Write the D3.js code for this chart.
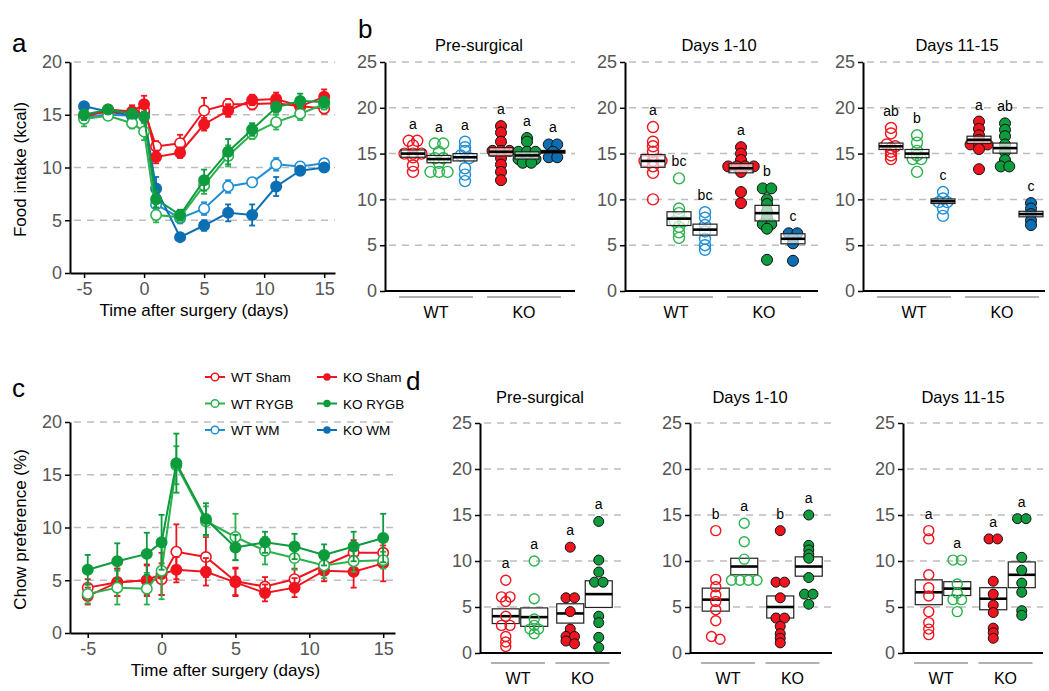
<!DOCTYPE html>
<html>
<head>
<meta charset="utf-8">
<script src="https://cdn.jsdelivr.net/npm/d3@7"></script>
<style>
  body { margin: 0; background: #fff; }
  svg { font-family: "Liberation Sans", Arial, sans-serif; }
</style>
</head>
<body>
<svg width="1049" height="691"></svg>
<script>
"use strict";

// ---- data ----
const days = [-5, -3, -1, 0, 1, 3, 5, 7, 9, 11, 13, 15];
const groupNames = ["WT Sham", "WT RYGB", "WT WM", "KO Sham", "KO RYGB", "KO WM"];
const genotypes = ["WT", "KO"];

// panel a : food intake (kcal), mean and SEM
const foodWtSham = [14.9, 15.3, 15.2, 15.4, 12.0, 12.3, 15.4, 16.0, 16.0, 16.1, 15.8, 15.6];
const foodWtShamErr = [0.5, 0.4, 0.5, 0.5, 0.5, 0.8, 1.2, 0.5, 0.5, 0.6, 0.5, 0.5];
const foodKoSham = [14.8, 15.5, 15.3, 16.0, 11.0, 11.4, 14.1, 15.4, 16.4, 16.5, 15.8, 16.7];
const foodKoShamErr = [0.4, 0.4, 0.6, 0.8, 0.6, 0.5, 0.6, 0.6, 0.5, 0.6, 0.5, 0.7];
const foodWtRygb = [14.6, 14.9, 14.2, 13.4, 5.5, 5.3, 8.3, 11.1, 13.2, 14.3, 15.1, 16.0];
const foodWtRygbErr = [0.7, 0.4, 0.5, 0.8, 0.7, 0.5, 0.8, 1.0, 0.5, 0.7, 0.6, 0.5];
const foodKoRygb = [15.0, 15.5, 15.1, 14.8, 7.0, 5.5, 8.8, 11.5, 13.6, 15.7, 16.3, 16.2];
const foodKoRygbErr = [0.5, 0.4, 0.4, 0.5, 0.8, 0.5, 1.0, 1.2, 0.6, 0.5, 0.7, 0.5];
const foodWtWm = [14.8, 15.0, 14.9, 15.0, 6.5, 5.2, 6.1, 8.2, 8.6, 10.3, 10.1, 10.4];
const foodWtWmErr = [0.5, 0.4, 0.4, 0.4, 0.7, 0.5, 0.6, 0.6, 0.4, 0.6, 0.4, 0.4];
const foodKoWm = [15.8, 15.3, 14.9, 15.1, 8.0, 3.4, 4.5, 5.7, 5.5, 8.2, 9.7, 10.0];
const foodKoWmErr = [0.4, 0.4, 0.4, 0.4, 1.1, 0.3, 0.5, 0.8, 1.0, 0.9, 0.4, 0.3];

// panel c : chow preference (%), mean and SEM
const chowWtSham = [4.3, 4.8, 5.0, 5.1, 7.7, 7.2, 4.9, 4.4, 5.1, 6.4, 7.6, 7.6];
const chowWtShamErr = [0.8, 1.3, 1.5, 1.5, 2.6, 1.9, 1.3, 0.9, 1.0, 0.8, 1.2, 1.0];
const chowKoSham = [3.5, 4.8, 5.0, 5.6, 6.0, 5.8, 4.8, 3.8, 4.3, 5.9, 5.8, 6.6];
const chowKoShamErr = [0.8, 1.3, 1.4, 2.0, 1.2, 1.3, 1.3, 0.8, 0.9, 1.0, 1.5, 1.7];
const chowWtRygb = [3.7, 4.3, 4.2, 5.9, 15.9, 10.6, 9.1, 7.8, 7.1, 6.4, 6.8, 6.9];
const chowWtRygbErr = [0.9, 1.6, 1.5, 2.7, 1.8, 1.4, 2.2, 1.3, 1.1, 1.2, 1.0, 0.8];
const chowKoRygb = [6.0, 6.8, 7.5, 8.6, 16.1, 10.8, 8.1, 8.6, 8.2, 7.4, 8.2, 9.0];
const chowKoRygbErr = [1.4, 1.7, 2.0, 2.6, 2.8, 1.5, 1.2, 1.0, 1.2, 1.0, 1.4, 2.3];

// panel b : food intake per mouse (kcal); order follows groupNames
const bPre = [
  [16.4, 16.4, 15.9, 15.0, 15.0, 15.0, 14.6, 13.7, 13.0],
  [16.1, 16.1, 15.2, 14.5, 14.5, 14.0, 13.0, 13.0, 13.0],
  [16.3, 15.7, 15.3, 14.8, 14.5, 13.4, 12.7, 12.0],
  [18.0, 17.3, 16.3, 15.3, 15.3, 15.3, 14.5, 13.8, 13.0, 12.1],
  [16.7, 16.3, 15.2, 15.2, 15.2, 14.4, 14.4, 14.4, 14.0, 14.0],
  [16.0, 16.0, 15.2, 14.6, 14.6]
];
const bPreMean = [15.0, 14.4, 14.6, 15.2, 14.8, 15.2];
const bPreSem = [0.4, 0.4, 0.4, 0.45, 0.4, 0.15];
const bPreLetters = ["a", "a", "a", "a", "a", "a"];

const bEarly = [
  [17.9, 16.3, 15.8, 15.2, 14.2, 14.2, 14.2, 13.6, 12.9, 10.0],
  [12.3, 9.0, 8.5, 7.6, 7.6, 7.0, 6.4, 5.8],
  [8.6, 8.0, 7.2, 6.5, 5.7, 5.0, 4.5],
  [15.7, 15.0, 14.3, 13.6, 13.6, 13.6, 13.6, 13.0, 10.8, 9.6],
  [11.2, 11.2, 10.0, 9.5, 8.7, 8.0, 7.3, 7.3, 6.8, 3.4],
  [6.3, 6.3, 5.7, 5.2, 3.3]
];
const bEarlyMean = [14.2, 7.9, 6.7, 13.4, 8.5, 5.7];
const bEarlySem = [0.7, 0.75, 0.6, 0.5, 0.85, 0.55];
const bEarlyLetters = ["a", "bc", "bc", "a", "b", "c"];

const bLate = [
  [17.8, 17.2, 16.0, 15.8, 15.6, 15.2, 14.8, 14.4],
  [17.0, 16.2, 15.3, 14.8, 14.4, 14.4, 13.0],
  [10.8, 10.1, 9.7, 9.7, 9.0, 8.2],
  [18.5, 17.7, 17.0, 16.5, 16.0, 16.0, 16.0, 15.5, 13.3],
  [18.3, 17.6, 16.9, 16.0, 15.2, 14.3, 13.6, 13.6],
  [9.6, 9.0, 8.4, 7.7, 7.2]
];
const bLateMean = [15.8, 15.0, 9.8, 16.5, 15.6, 8.4];
const bLateSem = [0.35, 0.45, 0.25, 0.4, 0.55, 0.3];
const bLateLetters = ["ab", "b", "c", "a", "ab", "c"];

// panel d : chow preference per mouse (%); WT Sham, WT RYGB, KO Sham, KO RYGB
const dGroupNames = ["WT Sham", "WT RYGB", "KO Sham", "KO RYGB"];
const dPre = [
  [7.9, 6.1, 6.1, 5.6, 4.0, 3.0, 3.0, 1.8, 1.2, 0.7],
  [10.0, 5.9, 3.7, 3.0, 2.6, 2.6, 2.1],
  [11.5, 6.0, 6.0, 4.5, 2.6, 1.8, 1.8, 1.3, 1.0],
  [14.3, 10.1, 8.8, 7.7, 7.7, 4.0, 3.3, 1.7, 0.6]
];
const dPreMean = [4.0, 3.9, 4.3, 6.4];
const dPreSem = [0.8, 1.0, 1.05, 1.45];
const dPreLetters = ["a", "a", "a", "a"];

const dEarly = [
  [13.3, 8.0, 7.2, 6.3, 5.6, 4.7, 3.5, 1.8, 1.5],
  [14.1, 12.1, 10.2, 7.9, 7.9, 7.9, 7.9],
  [13.3, 7.7, 7.7, 6.0, 3.8, 3.8, 2.9, 2.1, 1.6, 1.1],
  [15.0, 11.7, 11.2, 10.7, 10.3, 8.2, 6.4, 6.4, 5.3]
];
const dEarlyMean = [5.8, 9.4, 5.0, 9.4];
const dEarlySem = [1.25, 0.9, 1.2, 1.05];
const dEarlyLetters = ["b", "a", "b", "a"];

const dLate = [
  [13.3, 12.4, 8.5, 7.1, 6.2, 4.5, 3.3, 2.6, 2.0],
  [10.1, 10.1, 7.5, 6.5, 5.8, 5.8, 4.5],
  [12.4, 12.4, 7.8, 6.4, 5.2, 4.4, 2.7, 2.2, 1.6],
  [14.6, 14.6, 10.4, 9.0, 7.6, 6.6, 4.6, 4.1]
];
const dLateMean = [6.6, 7.0, 5.9, 8.5];
const dLateSem = [1.35, 0.75, 1.2, 1.4];
const dLateLetters = ["a", "a", "a", "a"];

// ---- styles ----
const colors = {
  "WT Sham": "#f0141e", "KO Sham": "#f0141e",
  "WT RYGB": "#2bb24c", "KO RYGB": "#0d9b3e",
  "WT WM": "#1f8fd6", "KO WM": "#0d6fb3"
};
const isFilled = name => name.startsWith("KO");
const tickColor = "#555";
const gridColor = "#bdbdbd";

const svg = d3.select("svg");

function styleAxis(g) {
  g.select(".domain").attr("stroke", "#000").attr("stroke-width", 2);
  g.selectAll(".tick line").attr("stroke", "#000").attr("stroke-width", 1.5);
  g.selectAll(".tick text")
    .attr("fill", tickColor)
    .style("font-size", "18px")
    .style("font-family", "Liberation Sans, Arial, sans-serif");
}

function gridLines(g, y, values, x0, x1) {
  g.append("g").selectAll("line")
    .data(values)
    .join("line")
    .attr("x1", x0 + 4).attr("x2", x1)
    .attr("y1", d => y(d)).attr("y2", d => y(d))
    .attr("stroke", gridColor)
    .attr("stroke-width", 1.5)
    .attr("stroke-dasharray", "7,6");
}

// time course panels (a, c)
function timePanel(cfg) {
  const g = svg.append("g");
  const x = d3.scaleLinear().domain(cfg.xDomain).range(cfg.xRange);
  const y = d3.scaleLinear().domain([0, 20]).range(cfg.yRange);

  gridLines(g, y, [5, 10, 15, 20], cfg.xRange[0], cfg.xRange[1]);

  g.append("g")
    .attr("transform", `translate(${cfg.xRange[0]},0)`)
    .call(d3.axisLeft(y).tickValues([0, 5, 10, 15, 20]).tickSize(5).tickSizeOuter(0).tickPadding(3))
    .call(styleAxis);
  g.append("g")
    .attr("transform", `translate(0,${cfg.yRange[0]})`)
    .call(d3.axisBottom(x).tickValues([-5, 0, 5, 10, 15]).tickSize(5).tickSizeOuter(0)
      .tickPadding(4).tickFormat(d => String(d)))
    .call(styleAxis);

  const line = d3.line().x(d => x(d.day)).y(d => y(d.v));

  cfg.series.forEach(s => {
    const pts = days.map((day, i) => ({ day, v: s.vals[i], e: s.err[i] }));
    const c = colors[s.name];
    const sg = g.append("g");
    sg.append("path")
      .datum(pts)
      .attr("d", line)
      .attr("fill", "none")
      .attr("stroke", c)
      .attr("stroke-width", 2);
    const eb = sg.selectAll("g.err").data(pts).join("g").attr("class", "err");
    eb.append("line")
      .attr("x1", d => x(d.day)).attr("x2", d => x(d.day))
      .attr("y1", d => y(d.v - d.e)).attr("y2", d => y(d.v + d.e))
      .attr("stroke", c).attr("stroke-width", 1.8);
    eb.selectAll("line.cap")
      .data(d => [d.v - d.e, d.v + d.e].map(v => ({ day: d.day, v })))
      .join("line").attr("class", "cap")
      .attr("x1", d => x(d.day) - 3).attr("x2", d => x(d.day) + 3)
      .attr("y1", d => y(d.v)).attr("y2", d => y(d.v))
      .attr("stroke", c).attr("stroke-width", 1.8);
    sg.selectAll("circle")
      .data(pts)
      .join("circle")
      .attr("cx", d => x(d.day)).attr("cy", d => y(d.v))
      .attr("r", 5.2)
      .attr("fill", isFilled(s.name) ? c : "#fff")
      .attr("stroke", c)
      .attr("stroke-width", 1.6);
  });

  g.append("text")
    .attr("x", (x(-5) + x(15)) / 2 - 10)
    .attr("y", cfg.xLabelY)
    .attr("text-anchor", "middle")
    .style("font-size", "17px")
    .text("Time after surgery (days)");
  g.append("text")
    .attr("transform", `translate(26,${(cfg.yRange[0] + cfg.yRange[1]) / 2 + 2}) rotate(-90)`)
    .attr("text-anchor", "middle")
    .style("font-size", "17px")
    .text(cfg.yLabel);
}

// spread dots of similar value side by side
function swarm(values, y, r, step) {
  const sorted = values.slice().sort((a, b) => b - a);
  const rows = [];
  sorted.forEach(v => {
    const last = rows[rows.length - 1];
    if (last && Math.abs(y(last[0]) - y(v)) < r * 0.6) last.push(v);
    else rows.push([v]);
  });
  const out = [];
  rows.forEach(row => {
    row.forEach((v, i) => out.push({ v, dx: (i - (row.length - 1) / 2) * step }));
  });
  return out;
}

// scatter panels (b, d)
function dotPanel(cfg) {
  const g = svg.append("g");
  const y = d3.scaleLinear().domain([0, 25]).range(cfg.yRange);
  const xg = d3.scaleBand().domain(genotypes).range(cfg.bandRange).paddingInner(0);
  const xs = d3.scalePoint().domain(cfg.surgeries).range(cfg.innerRange);
  const cx = name => {
    const [gt, sg] = name.split(" ");
    return xg(gt) + xg.bandwidth() / 2 + xs(sg);
  };

  gridLines(g, y, [5, 10, 15, 20, 25], cfg.axisX, cfg.endX);

  g.append("g")
    .attr("transform", `translate(${cfg.axisX},0)`)
    .call(d3.axisLeft(y).tickValues([0, 5, 10, 15, 20, 25]).tickSize(5).tickSizeOuter(0).tickPadding(3))
    .call(styleAxis);
  g.append("line")
    .attr("x1", cfg.axisX).attr("x2", cfg.endX)
    .attr("y1", y(0)).attr("y2", y(0))
    .attr("stroke", "#000").attr("stroke-width", 2);

  g.append("text")
    .attr("x", cfg.titleX).attr("y", cfg.titleY)
    .attr("text-anchor", "middle")
    .style("font-size", "16.5px")
    .text(cfg.title);

  // genotype brackets
  genotypes.forEach(gt => {
    const c = xg(gt) + xg.bandwidth() / 2 + cfg.bracketShift;
    g.append("line")
      .attr("x1", c - cfg.bracketHalf).attr("x2", c + cfg.bracketHalf)
      .attr("y1", cfg.bracketY).attr("y2", cfg.bracketY)
      .attr("stroke", "#999").attr("stroke-width", 1.5);
    g.append("text")
      .attr("x", c).attr("y", cfg.bracketY + 21)
      .attr("text-anchor", "middle")
      .style("font-size", "16px")
      .text(gt);
  });

  const drawBoxes = () => {
    cfg.names.forEach((name, i) => {
      const x0 = cx(name);
      const m = cfg.mean[i], s = cfg.sem[i];
      g.append("rect")
        .attr("x", x0 - cfg.boxW / 2).attr("width", cfg.boxW)
        .attr("y", y(m + s)).attr("height", y(m - s) - y(m + s))
        .attr("fill", "#fff").attr("fill-opacity", cfg.boxOpacity)
        .attr("stroke", "#222").attr("stroke-width", 1.2);
      g.append("line")
        .attr("x1", x0 - cfg.boxW / 2).attr("x2", x0 + cfg.boxW / 2)
        .attr("y1", y(m)).attr("y2", y(m))
        .attr("stroke", "#000").attr("stroke-width", 2.6);
    });
  };

  if (!cfg.boxOnTop) drawBoxes();

  cfg.names.forEach((name, i) => {
    const c = colors[name];
    const pts = swarm(cfg.values[i], y, cfg.r, cfg.step);
    g.append("g").selectAll("circle")
      .data(pts)
      .join("circle")
      .attr("cx", d => cx(name) + d.dx)
      .attr("cy", d => y(d.v))
      .attr("r", cfg.r)
      .attr("fill", isFilled(name) ? c : "none")
      .attr("stroke", isFilled(name) ? "#111" : c)
      .attr("stroke-width", isFilled(name) ? 1 : 1.4);
    g.append("text")
      .attr("x", cx(name))
      .attr("y", y(d3.max(cfg.values[i])) - 12)
      .attr("text-anchor", "middle")
      .style("font-size", "14px")
      .text(cfg.letters[i]);
  });

  if (cfg.boxOnTop) drawBoxes();
}

// ---- panel a ----
timePanel({
  xDomain: [-6.17, 15.9], xRange: [70, 335], yRange: [273, 62],
  xLabelY: 316, yLabel: "Food intake (kcal)",
  series: [
    { name: "WT WM", vals: foodWtWm, err: foodWtWmErr },
    { name: "KO WM", vals: foodKoWm, err: foodKoWmErr },
    { name: "WT Sham", vals: foodWtSham, err: foodWtShamErr },
    { name: "KO Sham", vals: foodKoSham, err: foodKoShamErr },
    { name: "WT RYGB", vals: foodWtRygb, err: foodWtRygbErr },
    { name: "KO RYGB", vals: foodKoRygb, err: foodKoRygbErr }
  ]
});

// ---- panel c ----
timePanel({
  xDomain: [-6.2, 15.8], xRange: [70, 395], yRange: [633, 422],
  xLabelY: 676, yLabel: "Chow preference (%)",
  series: [
    { name: "WT Sham", vals: chowWtSham, err: chowWtShamErr },
    { name: "KO Sham", vals: chowKoSham, err: chowKoShamErr },
    { name: "WT RYGB", vals: chowWtRygb, err: chowWtRygbErr },
    { name: "KO RYGB", vals: chowKoRygb, err: chowKoRygbErr }
  ]
});

// legend for c
const legend = svg.append("g");
groupNames.forEach((name, i) => {
  const col = genotypes.indexOf(name.split(" ")[0]);
  const row = i % 3;
  const lx = 205 + col * 112, ly = 377 + row * 26.5;
  const c = colors[name];
  legend.append("line")
    .attr("x1", lx).attr("x2", lx + 20).attr("y1", ly).attr("y2", ly)
    .attr("stroke", c).attr("stroke-width", 2);
  legend.append("circle")
    .attr("cx", lx + 10).attr("cy", ly).attr("r", isFilled(name) ? 3 : 3.8)
    .attr("fill", isFilled(name) ? c : "#fff").attr("stroke", c).attr("stroke-width", 1.4);
  legend.append("text")
    .attr("x", lx + 26).attr("y", ly + 5)
    .style("font-size", "13.5px")
    .text(name);
});

// ---- panel b ----
const bDefaults = {
  yRange: [291, 62], surgeries: ["Sham", "RYGB", "WM"], names: groupNames,
  innerRange: [-26, 26], r: 5.5, step: 8.5, boxW: 24, boxOpacity: 0.65, boxOnTop: true,
  bracketY: 297, bracketHalf: 37, bracketShift: -3, titleY: 51
};
[
  { axisX: 385, endX: 575, title: "Pre-surgical", values: bPre, mean: bPreMean, sem: bPreSem, letters: bPreLetters },
  { axisX: 625, endX: 818, title: "Days 1-10", values: bEarly, mean: bEarlyMean, sem: bEarlySem, letters: bEarlyLetters },
  { axisX: 863, endX: 1045, title: "Days 11-15", values: bLate, mean: bLateMean, sem: bLateSem, letters: bLateLetters }
].forEach(p => {
  dotPanel(Object.assign({}, bDefaults, p, {
    bandRange: [p.axisX + 10, p.axisX + 186],
    titleX: p.axisX + 94
  }));
});

// ---- panel d ----
const dDefaults = {
  yRange: [653, 423], surgeries: ["Sham", "RYGB"], names: dGroupNames,
  innerRange: [-14.25, 14.25], r: 5, step: 8.5, boxW: 27, boxOpacity: 1, boxOnTop: false,
  bracketY: 663, bracketHalf: 27, bracketShift: -2, titleY: 403
};
[
  { axisX: 480, endX: 621, title: "Pre-surgical", values: dPre, mean: dPreMean, sem: dPreSem, letters: dPreLetters },
  { axisX: 690, endX: 832, title: "Days 1-10", values: dEarly, mean: dEarlyMean, sem: dEarlySem, letters: dEarlyLetters },
  { axisX: 903, endX: 1043, title: "Days 11-15", values: dLate, mean: dLateMean, sem: dLateSem, letters: dLateLetters }
].forEach(p => {
  dotPanel(Object.assign({}, dDefaults, p, {
    bandRange: [p.axisX + 7.75, p.axisX + 136.75],
    titleX: p.axisX + 60
  }));
});

// panel letters
[["a", 12, 52], ["b", 358, 38], ["c", 12, 397], ["d", 406, 390]].forEach(([t, x, y]) => {
  svg.append("text").attr("x", x).attr("y", y).style("font-size", "26px").text(t);
});
</script>
</body>
</html>
